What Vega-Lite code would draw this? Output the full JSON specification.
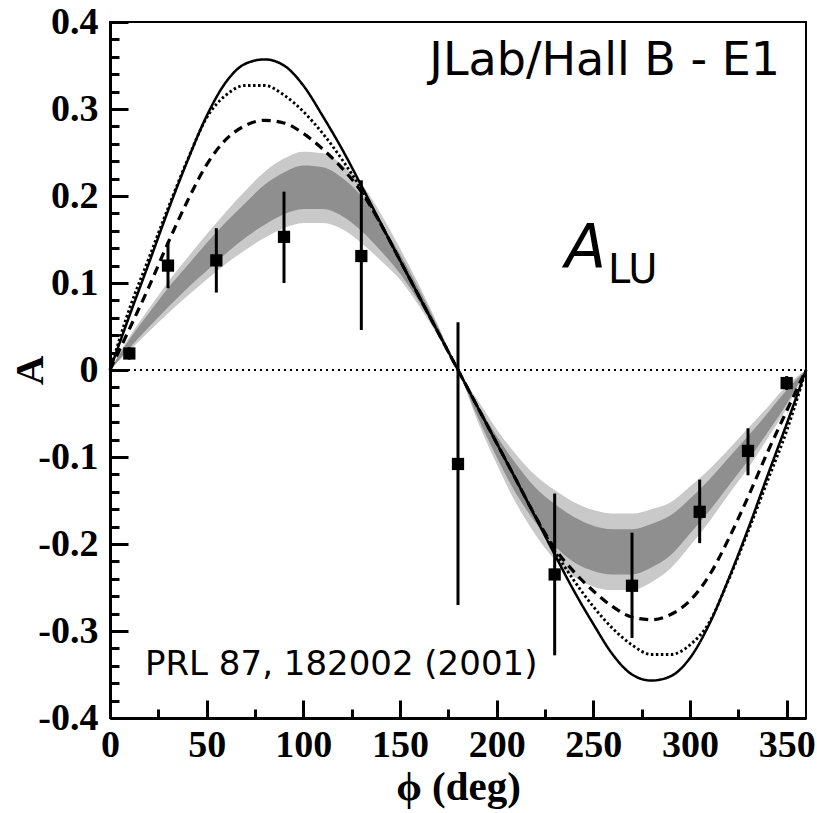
{
  "$schema": "https://vega.github.io/schema/vega-lite/v6.json",
  "width": 696,
  "height": 696,
  "autosize": {"type": "none"},
  "padding": {"left": 110, "top": 22, "right": 11, "bottom": 95},
  "background": "white",
  "config": {
    "view": {"stroke": "black", "strokeWidth": 2},
    "axis": {
      "grid": false, "domainColor": "black", "domainWidth": 3, "tickColor": "black", "tickWidth": 3,
      "labelColor": "black", "titleColor": "black", "labelFont": "Liberation Serif", "labelFontWeight": "bold",
      "labelFontSize": 38, "titleFont": "Liberation Serif", "titleFontWeight": "bold", "titleFontSize": 41,
      "labelOverlap": false, "labelFlush": false, "labelBound": false, "tickCount": 200
    }
  },
  "datasets": {
    "curves": [
      {"phi":0,"m":"solid","A":0},{"phi":10,"m":"solid","A":0.062},{"phi":20,"m":"solid","A":0.122},{"phi":30,"m":"solid","A":0.183},{"phi":40,"m":"solid","A":0.24},{"phi":50,"m":"solid","A":0.292},{"phi":60,"m":"solid","A":0.331},{"phi":70,"m":"solid","A":0.352},{"phi":80,"m":"solid","A":0.357},{"phi":90,"m":"solid","A":0.35},{"phi":100,"m":"solid","A":0.327},{"phi":110,"m":"solid","A":0.292},{"phi":120,"m":"solid","A":0.254},{"phi":130,"m":"solid","A":0.212},{"phi":140,"m":"solid","A":0.169},{"phi":150,"m":"solid","A":0.126},{"phi":160,"m":"solid","A":0.084},{"phi":170,"m":"solid","A":0.042},{"phi":180,"m":"solid","A":0},
      {"phi":190,"m":"solid","A":-0.042},{"phi":200,"m":"solid","A":-0.084},{"phi":210,"m":"solid","A":-0.126},{"phi":220,"m":"solid","A":-0.169},{"phi":230,"m":"solid","A":-0.212},{"phi":240,"m":"solid","A":-0.254},{"phi":250,"m":"solid","A":-0.292},{"phi":260,"m":"solid","A":-0.327},{"phi":270,"m":"solid","A":-0.35},{"phi":280,"m":"solid","A":-0.357},{"phi":290,"m":"solid","A":-0.352},{"phi":300,"m":"solid","A":-0.331},{"phi":310,"m":"solid","A":-0.292},{"phi":320,"m":"solid","A":-0.24},{"phi":330,"m":"solid","A":-0.183},{"phi":340,"m":"solid","A":-0.122},{"phi":350,"m":"solid","A":-0.062},{"phi":360,"m":"solid","A":0},
      {"phi":0,"m":"dotted","A":0},{"phi":10,"m":"dotted","A":0.07},{"phi":20,"m":"dotted","A":0.128},{"phi":30,"m":"dotted","A":0.186},{"phi":40,"m":"dotted","A":0.241},{"phi":50,"m":"dotted","A":0.29},{"phi":60,"m":"dotted","A":0.316},{"phi":70,"m":"dotted","A":0.327},{"phi":80,"m":"dotted","A":0.327},{"phi":90,"m":"dotted","A":0.316},{"phi":100,"m":"dotted","A":0.297},{"phi":110,"m":"dotted","A":0.272},{"phi":120,"m":"dotted","A":0.242},{"phi":130,"m":"dotted","A":0.208},{"phi":140,"m":"dotted","A":0.168},{"phi":150,"m":"dotted","A":0.126},{"phi":160,"m":"dotted","A":0.084},{"phi":170,"m":"dotted","A":0.042},{"phi":180,"m":"dotted","A":0},
      {"phi":190,"m":"dotted","A":-0.042},{"phi":200,"m":"dotted","A":-0.084},{"phi":210,"m":"dotted","A":-0.126},{"phi":220,"m":"dotted","A":-0.168},{"phi":230,"m":"dotted","A":-0.208},{"phi":240,"m":"dotted","A":-0.242},{"phi":250,"m":"dotted","A":-0.272},{"phi":260,"m":"dotted","A":-0.297},{"phi":270,"m":"dotted","A":-0.316},{"phi":280,"m":"dotted","A":-0.327},{"phi":290,"m":"dotted","A":-0.327},{"phi":300,"m":"dotted","A":-0.316},{"phi":310,"m":"dotted","A":-0.29},{"phi":320,"m":"dotted","A":-0.241},{"phi":330,"m":"dotted","A":-0.186},{"phi":340,"m":"dotted","A":-0.128},{"phi":350,"m":"dotted","A":-0.07},{"phi":360,"m":"dotted","A":0},
      {"phi":0,"m":"dashed","A":0},{"phi":10,"m":"dashed","A":0.047},{"phi":20,"m":"dashed","A":0.095},{"phi":30,"m":"dashed","A":0.146},{"phi":40,"m":"dashed","A":0.194},{"phi":50,"m":"dashed","A":0.236},{"phi":60,"m":"dashed","A":0.265},{"phi":70,"m":"dashed","A":0.281},{"phi":80,"m":"dashed","A":0.287},{"phi":90,"m":"dashed","A":0.284},{"phi":100,"m":"dashed","A":0.272},{"phi":110,"m":"dashed","A":0.254},{"phi":120,"m":"dashed","A":0.232},{"phi":130,"m":"dashed","A":0.205},{"phi":140,"m":"dashed","A":0.168},{"phi":150,"m":"dashed","A":0.126},{"phi":160,"m":"dashed","A":0.084},{"phi":170,"m":"dashed","A":0.042},{"phi":180,"m":"dashed","A":0},
      {"phi":190,"m":"dashed","A":-0.042},{"phi":200,"m":"dashed","A":-0.084},{"phi":210,"m":"dashed","A":-0.126},{"phi":220,"m":"dashed","A":-0.168},{"phi":230,"m":"dashed","A":-0.205},{"phi":240,"m":"dashed","A":-0.232},{"phi":250,"m":"dashed","A":-0.254},{"phi":260,"m":"dashed","A":-0.272},{"phi":270,"m":"dashed","A":-0.284},{"phi":280,"m":"dashed","A":-0.287},{"phi":290,"m":"dashed","A":-0.281},{"phi":300,"m":"dashed","A":-0.265},{"phi":310,"m":"dashed","A":-0.236},{"phi":320,"m":"dashed","A":-0.194},{"phi":330,"m":"dashed","A":-0.146},{"phi":340,"m":"dashed","A":-0.095},{"phi":350,"m":"dashed","A":-0.047},{"phi":360,"m":"dashed","A":0}
    ],
    "band": [
      {"phi":0,"olo":0,"ohi":0,"ilo":0,"ihi":0},
      {"phi":10,"olo":0.022,"ohi":0.038,"ilo":0.025,"ihi":0.035},
      {"phi":20,"olo":0.044,"ohi":0.07,"ilo":0.049,"ihi":0.065},
      {"phi":30,"olo":0.065,"ohi":0.101,"ilo":0.072,"ihi":0.094},
      {"phi":40,"olo":0.085,"ohi":0.129,"ilo":0.094,"ihi":0.12},
      {"phi":50,"olo":0.104,"ohi":0.156,"ilo":0.114,"ihi":0.146},
      {"phi":60,"olo":0.122,"ohi":0.182,"ilo":0.134,"ihi":0.17},
      {"phi":70,"olo":0.138,"ohi":0.206,"ilo":0.152,"ihi":0.192},
      {"phi":80,"olo":0.152,"ohi":0.228,"ilo":0.167,"ihi":0.213},
      {"phi":90,"olo":0.163,"ohi":0.243,"ilo":0.179,"ihi":0.227},
      {"phi":100,"olo":0.169,"ohi":0.251,"ilo":0.185,"ihi":0.235},
      {"phi":110,"olo":0.169,"ohi":0.249,"ilo":0.185,"ihi":0.233},
      {"phi":120,"olo":0.162,"ohi":0.236,"ilo":0.177,"ihi":0.221},
      {"phi":130,"olo":0.146,"ohi":0.214,"ilo":0.16,"ihi":0.2},
      {"phi":140,"olo":0.126,"ohi":0.18,"ilo":0.137,"ihi":0.169},
      {"phi":150,"olo":0.104,"ohi":0.14,"ilo":0.111,"ihi":0.133},
      {"phi":160,"olo":0.073,"ohi":0.097,"ilo":0.078,"ihi":0.092},
      {"phi":170,"olo":0.038,"ohi":0.05,"ilo":0.04,"ihi":0.048},
      {"phi":180,"olo":0,"ohi":0,"ilo":0,"ihi":0},
      {"phi":190,"olo":-0.058,"ohi":-0.034,"ilo":-0.053,"ihi":-0.039},
      {"phi":200,"olo":-0.108,"ohi":-0.068,"ilo":-0.1,"ihi":-0.076},
      {"phi":210,"olo":-0.153,"ohi":-0.097,"ilo":-0.142,"ihi":-0.108},
      {"phi":220,"olo":-0.189,"ohi":-0.121,"ilo":-0.175,"ihi":-0.135},
      {"phi":230,"olo":-0.218,"ohi":-0.138,"ilo":-0.202,"ihi":-0.154},
      {"phi":240,"olo":-0.238,"ohi":-0.152,"ilo":-0.221,"ihi":-0.169},
      {"phi":250,"olo":-0.249,"ohi":-0.161,"ilo":-0.231,"ihi":-0.179},
      {"phi":260,"olo":-0.253,"ohi":-0.165,"ilo":-0.235,"ihi":-0.183},
      {"phi":270,"olo":-0.253,"ohi":-0.165,"ilo":-0.235,"ihi":-0.183},
      {"phi":280,"olo":-0.244,"ohi":-0.16,"ilo":-0.227,"ihi":-0.177},
      {"phi":290,"olo":-0.228,"ohi":-0.152,"ilo":-0.213,"ihi":-0.167},
      {"phi":300,"olo":-0.202,"ohi":-0.134,"ilo":-0.188,"ihi":-0.148},
      {"phi":310,"olo":-0.174,"ohi":-0.114,"ilo":-0.162,"ihi":-0.126},
      {"phi":320,"olo":-0.143,"ohi":-0.091,"ilo":-0.133,"ihi":-0.101},
      {"phi":330,"olo":-0.113,"ohi":-0.067,"ilo":-0.104,"ihi":-0.076},
      {"phi":340,"olo":-0.079,"ohi":-0.043,"ilo":-0.072,"ihi":-0.05},
      {"phi":350,"olo":-0.044,"ohi":-0.018,"ilo":-0.039,"ihi":-0.023},
      {"phi":360,"olo":0,"ohi":0,"ilo":0,"ihi":0}
    ],
    "points": [
      {"phi":10,"A":0.019,"lo":0.012,"hi":0.026},
      {"phi":30,"A":0.12,"lo":0.094,"hi":0.147},
      {"phi":55,"A":0.126,"lo":0.089,"hi":0.163},
      {"phi":90,"A":0.153,"lo":0.1,"hi":0.205},
      {"phi":130,"A":0.131,"lo":0.046,"hi":0.218},
      {"phi":180,"A":-0.108,"lo":-0.27,"hi":0.055},
      {"phi":230,"A":-0.235,"lo":-0.328,"hi":-0.142},
      {"phi":270,"A":-0.248,"lo":-0.308,"hi":-0.187},
      {"phi":305,"A":-0.163,"lo":-0.199,"hi":-0.126},
      {"phi":330,"A":-0.093,"lo":-0.121,"hi":-0.067},
      {"phi":350,"A":-0.015,"lo":-0.023,"hi":-0.007}
    ]
  },
  "encoding": {
    "x": {"field": "phi", "type": "quantitative",
      "scale": {"domain": [0, 360], "nice": false, "zero": false},
      "axis": {
        "title": "ϕ (deg)", "titleX": 348, "titleY": 81, "titleBaseline": "alphabetic",
        "values": [0,25,50,75,100,125,150,175,200,225,250,275,300,325,350],
        "tickSize": {"condition": {"test": "datum.value % 50 == 0", "value": -18}, "value": -9},
        "labelPadding": 26, "labelBaseline": "top",
        "labelExpr": "datum.value % 50 == 0 ? '' + datum.value : ''"
      }
    }
  },
  "layer": [
    {
      "data": {"name": "band"},
      "mark": {"type": "area", "interpolate": "monotone", "color": "#c9c9c9"},
      "encoding": {"y": {"field": "olo", "type": "quantitative",
        "scale": {"domain": [-0.4, 0.4], "nice": false, "zero": false},
        "axis": {
          "title": "A", "titleX": -68, "titleY": 348, "titleBaseline": "alphabetic",
          "values": [-0.4,-0.38,-0.36,-0.34,-0.32,-0.3,-0.28,-0.26,-0.24,-0.22,-0.2,-0.18,-0.16,-0.14,-0.12,-0.1,-0.08,-0.06,-0.04,-0.02,0,0.02,0.04,0.06,0.08,0.1,0.12,0.14,0.16,0.18,0.2,0.22,0.24,0.26,0.28,0.3,0.32,0.34,0.36,0.38,0.4],
          "tickSize": {"condition": {"test": "abs(round(datum.value*50)) % 5 == 0", "value": -18}, "value": -9},
          "labelPadding": 30,
          "labelExpr": "abs(round(datum.value*50)) % 5 == 0 ? '' + datum.value : ''"
        }},
        "y2": {"field": "ohi"}}
    },
    {
      "data": {"name": "band"},
      "mark": {"type": "area", "interpolate": "monotone", "color": "#8f8f8f"},
      "encoding": {"y": {"field": "ilo", "type": "quantitative"}, "y2": {"field": "ihi"}}
    },
    {
      "data": {"values": [{"phi": 0, "z": 0}, {"phi": 360, "z": 0}]},
      "mark": {"type": "line", "color": "black", "strokeWidth": 2, "strokeDash": [2, 4]},
      "encoding": {"y": {"field": "z", "type": "quantitative"}}
    },
    {
      "data": {"name": "curves"},
      "mark": {"type": "line", "interpolate": "monotone", "color": "black"},
      "encoding": {
        "y": {"field": "A", "type": "quantitative"},
        "detail": {"field": "m"},
        "strokeDash": {"field": "m", "type": "nominal",
          "scale": {"domain": ["solid", "dotted", "dashed"], "range": [[1, 0], [2.5, 2.5], [9, 6]]},
          "legend": null},
        "strokeWidth": {"field": "m", "type": "nominal",
          "scale": {"domain": ["solid", "dotted", "dashed"], "range": [2.5, 3.2, 2.5]},
          "legend": null}
      }
    },
    {
      "data": {"name": "points"},
      "mark": {"type": "rule", "color": "black", "strokeWidth": 3},
      "encoding": {"y": {"field": "lo", "type": "quantitative"}, "y2": {"field": "hi"}}
    },
    {
      "data": {"name": "points"},
      "mark": {"type": "square", "size": 150, "color": "black", "filled": true, "opacity": 1},
      "encoding": {"y": {"field": "A", "type": "quantitative"}}
    },
    {
      "data": {"values": [{"phi": 346.6, "A": 0.339, "t": "JLab/Hall B - E1"}]},
      "mark": {"type": "text", "align": "right", "baseline": "alphabetic", "font": "DejaVu Sans", "fontSize": 46, "color": "black"},
      "encoding": {"y": {"field": "A", "type": "quantitative"}, "text": {"field": "t"}}
    },
    {
      "data": {"values": [{"phi": 18.1, "A": -0.3506, "t": "PRL 87, 182002 (2001)"}]},
      "mark": {"type": "text", "align": "left", "baseline": "alphabetic", "font": "DejaVu Sans", "fontSize": 34, "color": "black"},
      "encoding": {"y": {"field": "A", "type": "quantitative"}, "text": {"field": "t"}}
    },
    {
      "data": {"values": [{"phi": 235.4, "A": 0.1184, "t": "A"}]},
      "mark": {"type": "text", "align": "left", "baseline": "alphabetic", "font": "DejaVu Sans", "fontStyle": "italic", "fontSize": 60, "color": "black"},
      "encoding": {"y": {"field": "A", "type": "quantitative"}, "text": {"field": "t"}}
    },
    {
      "data": {"values": [{"phi": 257.6, "A": 0.1, "t": "LU"}]},
      "mark": {"type": "text", "align": "left", "baseline": "alphabetic", "font": "DejaVu Sans", "fontSize": 40, "color": "black"},
      "encoding": {"y": {"field": "A", "type": "quantitative"}, "text": {"field": "t"}}
    }
  ]
}
